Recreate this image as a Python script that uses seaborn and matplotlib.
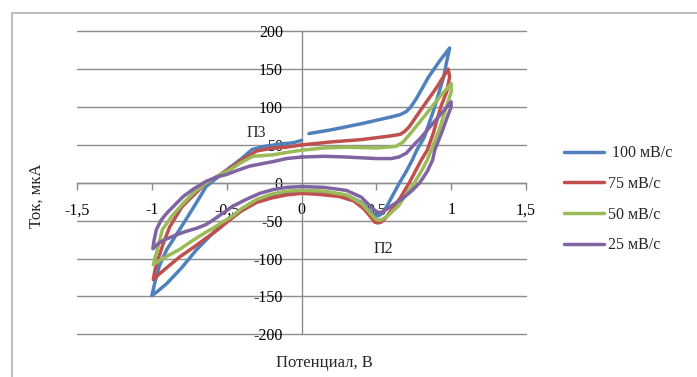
import numpy as np
import pandas as pd
import matplotlib
matplotlib.use("Agg")
import matplotlib.pyplot as plt
import seaborn as sns
from matplotlib.lines import Line2D

# ---------------- data ----------------
series_labels = [" 100 мВ/с", "75 мВ/с", "50 мВ/с", "25 мВ/с"]
colors = ["#4F81BD", "#C0504D", "#9BBB59", "#8064A2"]

E_100 = [0.05, 0.2, 0.4, 0.6, 0.66, 0.70, 0.73, 0.77, 0.85, 0.92, 0.99,
         0.97, 0.95, 0.89, 0.82, 0.77, 0.74, 0.70, 0.655, 0.6, 0.57, 0.54, 0.52, 0.50, 0.48, 0.45, 0.4, 0.32, 0.2, 0.1, 0.0,
         -0.1, -0.2, -0.3, -0.4, -0.5, -0.6, -0.7, -0.8, -0.9, -0.96, -1.0,
         -0.98, -0.95, -0.9, -0.815, -0.72, -0.637, -0.5, -0.4, -0.33, -0.25, -0.15, -0.05, 0.0]
I_100 = [65, 70, 78, 87, 90, 94, 100, 112, 140, 160, 178,
         160, 140, 100, 60, 43, 30, 15, 0, -20, -31, -40, -43, -44, -42, -36, -26, -18, -13, -11, -11,
         -13, -17, -25, -35, -50, -68, -88, -112, -133, -143, -149,
         -132, -110, -88, -62, -32, -5, 17, 32, 44, 48, 51, 53, 56]

E_75 = [0.0, 0.2, 0.4, 0.6, 0.66, 0.69, 0.72, 0.8, 0.9, 0.98,
        0.99, 0.97, 0.93, 0.88, 0.84, 0.80, 0.76, 0.72, 0.66, 0.6, 0.56, 0.53, 0.51, 0.49, 0.47, 0.42, 0.35, 0.25, 0.1, 0.0,
        -0.1, -0.2, -0.3, -0.4, -0.48, -0.56, -0.637, -0.72, -0.815, -0.9, -0.96, -0.99,
        -0.98, -0.96, -0.92, -0.88, -0.8, -0.75, -0.637, -0.55, -0.48, -0.4, -0.3, -0.19, -0.1, 0.0]
I_75 = [50, 54, 57, 62, 64, 68, 74, 97, 125, 150,
        140, 120, 100, 65, 43, 30, 15, 0, -20, -36, -47, -52, -53, -52, -47, -35, -24, -18, -15, -14,
        -16, -20, -26, -37, -49, -62, -73, -85, -98, -112, -122, -128,
        -116, -102, -78, -58, -32, -22, 0, 10, 19, 30, 42, 46, 47, 50]

E_50 = [0.0, 0.15, 0.3, 0.5, 0.63, 0.68, 0.74, 0.85, 0.93, 1.0,
        1.0, 0.967, 0.92, 0.866, 0.84, 0.8, 0.755, 0.7, 0.65, 0.58, 0.55, 0.53, 0.51, 0.49, 0.45, 0.4, 0.3, 0.15, 0.0,
        -0.1, -0.2, -0.3, -0.4, -0.46, -0.53, -0.59, -0.637, -0.726, -0.815, -0.9, -0.96, -0.99,
        -0.98, -0.97, -0.95, -0.93, -0.87, -0.79, -0.72, -0.637, -0.55, -0.48, -0.4, -0.325, -0.25, -0.19, -0.1, 0.0]
I_50 = [43, 46, 47, 46, 48, 54, 68, 95, 115, 131,
        120, 100, 70, 43, 30, 15, 0, -15, -30, -43, -47, -49, -49, -47, -38, -27, -16, -11, -10,
        -11, -15, -22, -34, -44, -52, -60, -65, -76, -88, -97, -104, -108,
        -100, -93, -78, -62, -45, -27, -13, 0, 10, 17, 27, 35, 36, 37, 40, 43]

E_25 = [0.0, 0.15, 0.3, 0.5, 0.6, 0.65, 0.7, 0.75, 0.8, 0.88, 0.95, 1.0,
        1.0, 0.98, 0.94, 0.89, 0.876, 0.84, 0.79, 0.74, 0.68, 0.62, 0.56, 0.53, 0.51, 0.48, 0.44, 0.4, 0.3, 0.15, 0.0,
        -0.1, -0.19, -0.28, -0.37, -0.46, -0.525, -0.59, -0.637, -0.7, -0.77, -0.84, -0.9, -0.95, -0.993,
        -0.985, -0.97, -0.94, -0.90, -0.85, -0.79, -0.72, -0.637, -0.56, -0.5, -0.42, -0.347, -0.27, -0.19, -0.1, 0.0]
I_25 = [34, 35, 34, 32, 32, 34, 39, 50, 60, 79, 95, 107,
        100, 90, 68, 43, 30, 15, 0, -10, -20, -28, -36, -39, -39, -35, -27, -19, -10, -6, -5,
        -6, -9, -14, -22, -31, -40, -49, -55, -60, -64, -69, -74, -79, -87,
        -76, -62, -50, -40, -30, -18, -8, 2, 8, 11, 17, 22, 25, 28, 32, 34]

x_ticks = [-1.5, -1, -0.5, 0, 0.5, 1, 1.5]
x_tick_labels = ["-1,5", "-1", "-0,5", "0", "0,5", "1", "1,5"]
y_ticks = [-200, -150, -100, -50, 0, 50, 100, 150, 200]

frames = []
for lab, E, I in zip(series_labels, [E_100, E_75, E_50, E_25], [I_100, I_75, I_50, I_25]):
    frames.append(pd.DataFrame({"E": E, "I": I, "series": lab, "order": np.arange(len(E))}))
df = pd.concat(frames, ignore_index=True)

# ---------------- figure ----------------
sns.set_theme(style="white")
plt.rcParams["font.family"] = ["Liberation Serif", "DejaVu Serif"]

W, H = 697, 377
fig = plt.figure(figsize=(W / 100, H / 100), dpi=100)
ax = fig.add_axes([77 / W, (H - 334.3) / H, (526 - 77) / W, (334.3 - 31.3) / H])

grid_c = "#8C8C8C"
ax.grid(False)
for yv in y_ticks:
    ax.axhline(yv, color=grid_c, linewidth=1.0, clip_on=False, zorder=0.5)

sns.lineplot(data=df, x="E", y="I", hue="series", hue_order=series_labels,
             palette=colors, sort=False, estimator=None, linewidth=2.5, ax=ax, legend=True)
for ln in ax.get_lines():
    ln.set_solid_joinstyle("round")
    ln.set_solid_capstyle("round")

ax.set_xlim(-1.5, 1.5)
ax.set_ylim(-200, 200)
ax.set_xticks(x_ticks)
ax.set_xticklabels(x_tick_labels)
ax.set_yticks(y_ticks)
ax.set_yticklabels([str(v) for v in y_ticks])

for s in ["top", "right"]:
    ax.spines[s].set_visible(False)
ax.spines["left"].set_position(("data", 0))
ax.spines["bottom"].set_position(("data", 0))
for s in ["left", "bottom"]:
    ax.spines[s].set_color(grid_c)
    ax.spines[s].set_linewidth(1.0)
    ax.spines[s].set_zorder(0.6)

ax.tick_params(axis="x", direction="out", length=5, width=1, color=grid_c, pad=9,
               labelsize=11.5, labelcolor="black", bottom=True)
ax.tick_params(axis="y", length=0, pad=13.5, labelsize=11.5, labelcolor="black", left=True)

ax.set_xlabel("")
ax.set_ylabel("")
fig.text(324 / W, 1 - 363 / H, "Потенциал, В", ha="center", va="center", fontsize=12)
fig.text(37 / W, 1 - 196 / H, "Ток, мкА", ha="center", va="center", rotation=90, fontsize=12)

fig.text(256 / W, 1 - 133 / H, "П3", ha="center", va="center", fontsize=11.5)
fig.text(383 / W, 1 - 249 / H, "П2", ha="center", va="center", fontsize=11.5)

handles, labels = ax.get_legend_handles_labels()
leg = ax.legend(handles[-4:], labels[-4:], loc="upper left", bbox_to_anchor=(558 / W, 1 - 139 / H),
                bbox_transform=fig.transFigure, frameon=False, fontsize=11.5, handlelength=2.5,
                handletextpad=0.2, labelspacing=0.92, borderaxespad=0)
for h in leg.get_lines():
    h.set_linewidth(2.5)

# chart-area border (left and top visible)
border_c = "#BFBFBF"
fig.add_artist(Line2D([12 / W, 12 / W], [0, 1 - 13 / H], transform=fig.transFigure, color=border_c, lw=1.5))
fig.add_artist(Line2D([12 / W, 1], [1 - 13 / H, 1 - 13 / H], transform=fig.transFigure, color=border_c, lw=1.5))

fig.savefig("out.png", dpi=100)
